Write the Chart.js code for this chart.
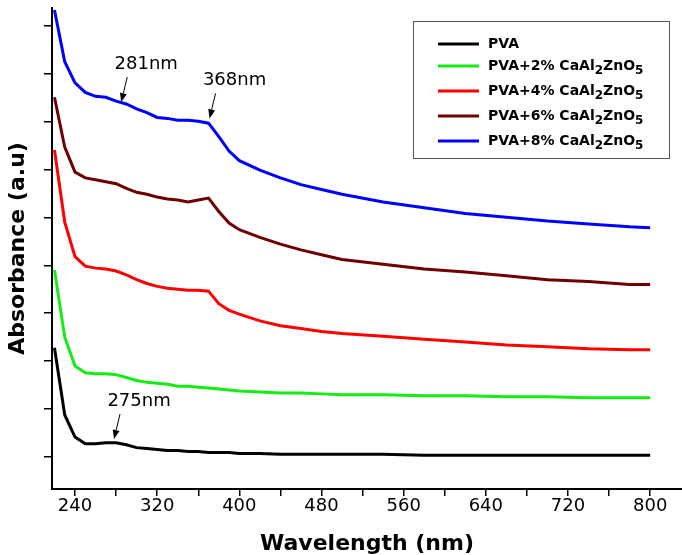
<!DOCTYPE html>
<html>
<head>
<meta charset="utf-8">
<script src="https://cdn.jsdelivr.net/npm/chart.js@4.4.0/dist/chart.umd.min.js"></script>
<style>
  html, body { margin: 0; padding: 0; background: #fff; }
  #wrap { width: 682px; height: 555px; }
</style>
</head>
<body>
<div id="wrap"><canvas id="uvchart"></canvas></div>
<script>
/* wavelength (nm) shared by every spectrum */
const wavelengths = [220, 230, 240, 250, 260, 270, 280, 290, 300, 310, 320, 330, 340, 350, 360, 370,
  380, 390, 400, 420, 440, 460, 480, 500, 540, 580, 620, 660, 700, 740, 780, 800];

/* absorbance (arbitrary units, curves are stacked) */
const pva = [1.14, 0.44, 0.21, 0.14, 0.14, 0.15, 0.15, 0.13, 0.10, 0.09, 0.08, 0.07, 0.07, 0.06, 0.06, 0.05,
  0.05, 0.05, 0.04, 0.04, 0.03, 0.03, 0.03, 0.03, 0.03, 0.02, 0.02, 0.02, 0.02, 0.02, 0.02, 0.02];
const pva2 = [1.95, 1.25, 0.95, 0.88, 0.87, 0.87, 0.86, 0.83, 0.80, 0.78, 0.77, 0.76, 0.74, 0.74, 0.73, 0.72,
  0.71, 0.70, 0.69, 0.68, 0.67, 0.67, 0.66, 0.65, 0.65, 0.64, 0.64, 0.63, 0.63, 0.62, 0.62, 0.62];
const pva4 = [3.20, 2.45, 2.09, 1.99, 1.97, 1.96, 1.94, 1.90, 1.85, 1.81, 1.78, 1.76, 1.75, 1.74, 1.74, 1.73,
  1.60, 1.53, 1.49, 1.42, 1.37, 1.34, 1.31, 1.29, 1.26, 1.23, 1.20, 1.17, 1.15, 1.13, 1.12, 1.12];
const pva6 = [3.75, 3.23, 2.97, 2.91, 2.89, 2.87, 2.85, 2.80, 2.76, 2.74, 2.71, 2.69, 2.68, 2.66, 2.68, 2.70,
  2.56, 2.44, 2.37, 2.29, 2.22, 2.16, 2.11, 2.06, 2.01, 1.96, 1.93, 1.89, 1.85, 1.83, 1.80, 1.80];
const pva8 = [4.66, 4.12, 3.90, 3.80, 3.76, 3.75, 3.71, 3.68, 3.63, 3.59, 3.54, 3.53, 3.51, 3.51, 3.50, 3.48,
  3.34, 3.19, 3.09, 2.99, 2.91, 2.84, 2.79, 2.74, 2.66, 2.60, 2.54, 2.50, 2.46, 2.43, 2.40, 2.39];

/* "_n" marks a subscript digit */
const seriesLabels = ['PVA', 'PVA+2% CaAl_2ZnO_5', 'PVA+4% CaAl_2ZnO_5', 'PVA+6% CaAl_2ZnO_5', 'PVA+8% CaAl_2ZnO_5'];
const seriesValues = [pva, pva2, pva4, pva6, pva8];
const seriesColors = ['#000000', '#14ec14', '#ff0000', '#6e0000', '#0000ff'];

const xTicks = [240, 280, 320, 360, 400, 440, 480, 520, 560, 600, 640, 680, 720, 760, 800];
const xTickLabels = [240, 320, 400, 480, 560, 640, 720, 800];
const yTicks = [0, 0.5, 1, 1.5, 2, 2.5, 3, 3.5, 4, 4.5];

/* peak callouts: text, wavelength and absorbance of the arrow tip */
const peakText = ['281nm', '368nm', '275nm'];
const peakX = [285, 371, 278];
const peakY = [3.70, 3.53, 0.19];

const legendRowsY = [44, 66, 91, 116, 141];

const boxLegend = {
  id: 'boxLegend',
  afterDraw(chart) {
    const ctx = chart.ctx;
    ctx.save();
    ctx.strokeStyle = '#555';
    ctx.lineWidth = 1;
    ctx.strokeRect(413.5, 21.5, 256, 137);
    seriesLabels.forEach((label, i) => {
      const y = legendRowsY[i];
      ctx.strokeStyle = seriesColors[i];
      ctx.lineWidth = 3;
      ctx.beginPath();
      ctx.moveTo(438, y);
      ctx.lineTo(479, y);
      ctx.stroke();
      let x = 488;
      ctx.fillStyle = '#000';
      ctx.textBaseline = 'middle';
      label.split(/_(\d)/).forEach((part, k) => {
        const sub = k % 2 === 1;
        ctx.font = sub ? 'bold 12px "DejaVu Sans"' : 'bold 14px "DejaVu Sans"';
        ctx.fillText(part, x, sub ? y + 5 : y);
        x += ctx.measureText(part).width;
      });
    });
    ctx.restore();
  }
};

const peakArrows = {
  id: 'peakArrows',
  afterDatasetsDraw(chart) {
    const {ctx, scales} = chart;
    ctx.save();
    ctx.strokeStyle = '#000';
    ctx.fillStyle = '#000';
    ctx.lineWidth = 1;
    peakText.forEach((t, i) => {
      const px = scales.x.getPixelForValue(peakX[i]);
      const py = scales.y.getPixelForValue(peakY[i]);
      const sx = px + 6, sy = py - 25;
      const ang = Math.atan2(py - sy, px - sx);
      const bx = px - 9 * Math.cos(ang), by = py - 9 * Math.sin(ang);
      ctx.beginPath();
      ctx.moveTo(sx, sy);
      ctx.lineTo(bx, by);
      ctx.stroke();
      ctx.beginPath();
      ctx.moveTo(px, py);
      ctx.lineTo(bx + 3.5 * Math.sin(ang), by - 3.5 * Math.cos(ang));
      ctx.lineTo(bx - 3.5 * Math.sin(ang), by + 3.5 * Math.cos(ang));
      ctx.closePath();
      ctx.fill();
      ctx.font = '18px "DejaVu Sans"';
      ctx.textAlign = 'center';
      ctx.textBaseline = 'middle';
      ctx.fillText(t, px + 25, py - 38);
    });
    ctx.restore();
  }
};

const datasets = seriesValues.map((vals, i) => ({
  label: seriesLabels[i].replace(/_/g, ''),
  data: wavelengths.map((w, j) => ({x: w, y: vals[j]})),
  borderColor: seriesColors[i],
  backgroundColor: seriesColors[i],
  borderWidth: 3,
  pointRadius: 0,
  tension: 0,
  fill: false
}));

const tickGrid = {
  drawOnChartArea: false,
  drawTicks: true,
  color: '#000',
  lineWidth: 1.5
};

new Chart(document.getElementById('uvchart').getContext('2d'), {
  type: 'line',
  data: {datasets: datasets},
  options: {
    responsive: true,
    maintainAspectRatio: false,
    animation: false,
    layout: {padding: {top: 8, right: 0, bottom: 0, left: 0}},
    plugins: {
      legend: {display: false},
      tooltip: {enabled: false}
    },
    scales: {
      x: {
        type: 'linear',
        min: 217.6,
        max: 831,
        afterBuildTicks: scale => { scale.ticks = xTicks.map(v => ({value: v})); },
        afterFit: scale => { scale.height = 66; },
        ticks: {
          autoSkip: false,
          maxRotation: 0,
          padding: 0,
          color: '#000',
          font: {family: 'DejaVu Sans', size: 18},
          callback: v => xTickLabels.includes(v) ? String(v) : ''
        },
        grid: Object.assign({tickLength: 7}, tickGrid),
        border: {display: true, color: '#000', width: 2},
        title: {
          display: true,
          text: 'Wavelength (nm)',
          color: '#000',
          padding: 0,
          font: {family: 'DejaVu Sans', size: 22, weight: 'bold', lineHeight: 1}
        }
      },
      y: {
        type: 'linear',
        min: -0.331,
        max: 4.68,
        afterBuildTicks: scale => { scale.ticks = yTicks.map(v => ({value: v})); },
        afterFit: scale => { scale.width = 52; },
        ticks: {display: false},
        grid: Object.assign({tickLength: 8}, tickGrid),
        border: {display: true, color: '#000', width: 2},
        title: {
          display: true,
          text: 'Absorbance (a.u)',
          color: '#000',
          padding: {top: 7, bottom: 0},
          font: {family: 'DejaVu Sans', size: 22, weight: 'bold', lineHeight: 1}
        }
      }
    }
  },
  plugins: [peakArrows, boxLegend]
});
</script>
</body>
</html>
